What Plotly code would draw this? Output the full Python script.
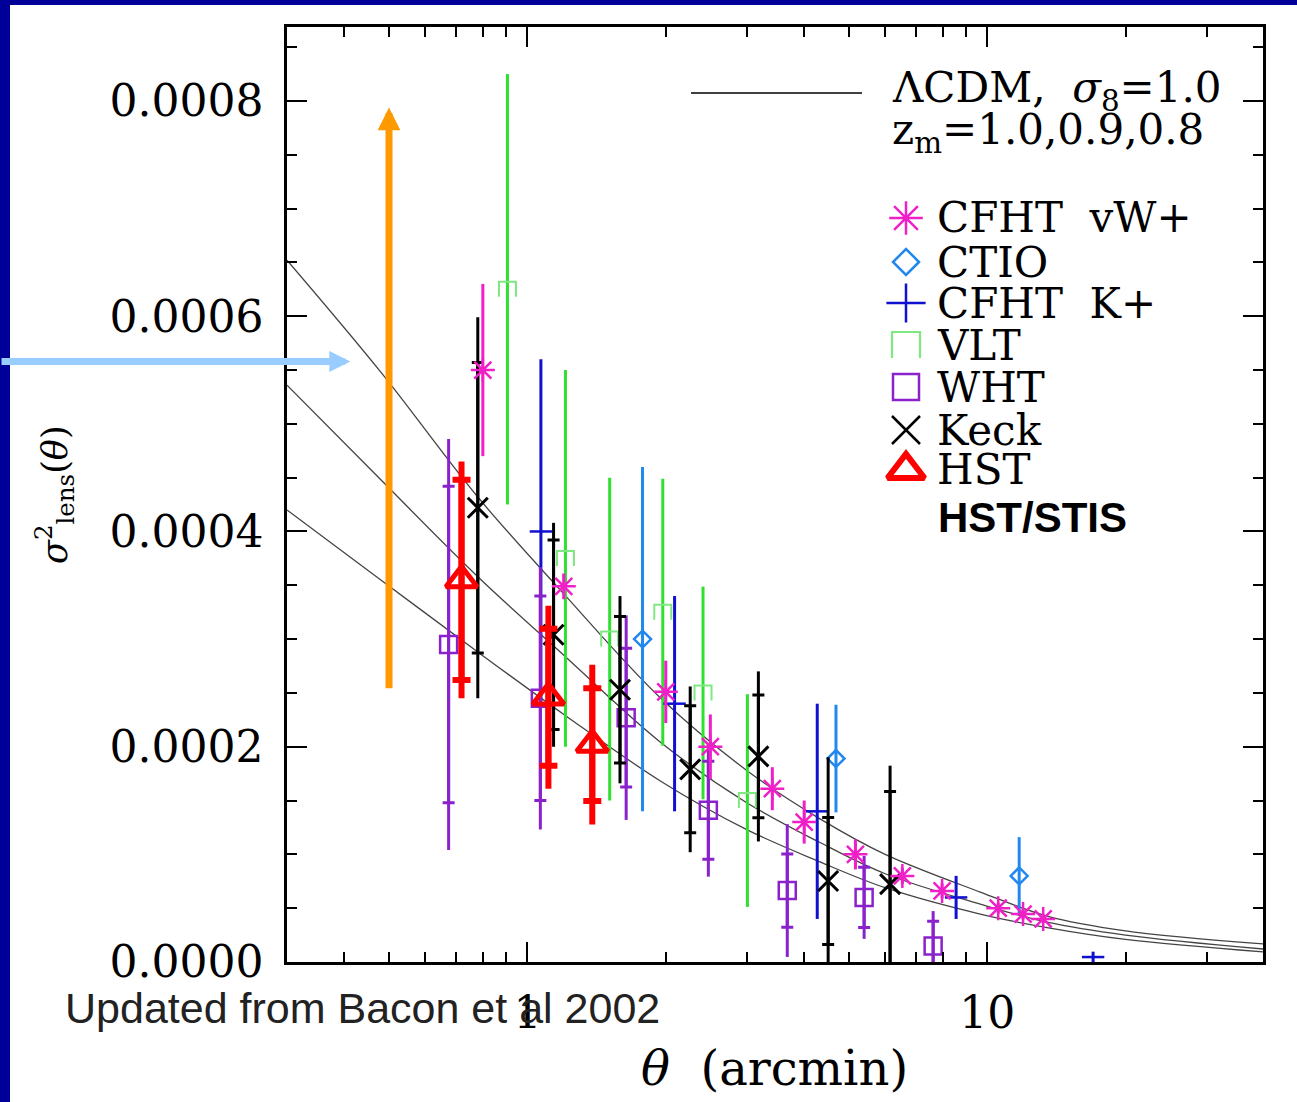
import numpy as np
import plotly.graph_objects as go

# ---------------- data ----------------
model_theta = [0.3, 0.48, 0.78, 1.2, 1.95, 3.0, 4.33, 6.0, 9.66, 13.5, 20, 40]
model_z10 = [0.000652, 0.000548, 0.000432, 0.000342, 0.000245, 0.000178, 0.000133, 0.0001,
             0.000065, 0.0000427, 0.000029, 0.0000167]
model_z09 = [0.000536, 0.000448, 0.000358, 0.000285, 0.000204, 0.000148, 0.000111, 0.000082,
             0.0000538, 0.000037, 0.000025, 0.000012]
model_z08 = [0.00042, 0.000355, 0.000288, 0.00023, 0.000168, 0.000123, 0.000093, 0.000069,
             0.0000445, 0.000032, 0.000021, 0.0000093]

keck_theta = [0.78, 1.14, 1.59, 2.26, 3.18, 4.51, 6.15]
keck_val = [0.000422, 0.000304, 0.000253, 0.000179, 0.000191, 0.0000752, 0.0000724]
keck_err_in = [0.000135, 0.000088, 0.000068, 0.000059, 0.000057, 0.000059, 0.000086]
keck_err_out = [0.000177, 0.000104, 0.000087, 0.000077, 0.000079, 0.000115, 0.00011]

vw_theta = [0.80, 1.20, 2.0, 2.5, 3.41, 4.0, 5.17, 6.54, 7.98, 10.57, 11.97, 13.24]
vw_val = [0.00055, 0.000349, 0.000251, 0.0002, 0.000161, 0.00013, 0.0001, 0.00008,
          0.000066, 0.00005, 0.0000445, 0.00004]
vw_err = [0.00008, 0.000012, 0.000029, 0.00003, 0.00002, 0.00002, 0.000014, 0.0000075,
          0.000007, 0.000005, 0.000005, 0.000004]

ctio_theta = [1.78, 4.69, 11.74]
ctio_val = [0.0003, 0.000189, 0.00008]
ctio_err = [0.00016, 0.00005, 0.000036]

kp_theta = [1.07, 2.09, 4.27, 8.56, 17.0]
kp_val = [0.0004, 0.00024, 0.00014, 0.00006, 0.0000046]
kp_err = [0.00016, 0.0001, 0.0001, 0.00002, 0.000005]

vlt_theta = [0.905, 1.21, 1.51, 1.97, 2.41, 3.01]
vlt_val = [0.000625, 0.000375, 0.0003, 0.000325, 0.00025, 0.00015]
vlt_err = [0.0002, 0.000175, 0.00015, 0.000124, 0.0000988, 0.0000988]

wht_theta = [0.674, 1.067, 1.64, 2.475, 3.675, 5.4, 7.63]
wht_val = [0.000295, 0.000245, 0.000227, 0.000141, 0.0000664, 0.00006, 0.0000148]
wht_err_in = [0.000147, 0.000095, 0.0000645, 0.0000455, 0.000034, 0.000028, 0.000023]
wht_err_out = [0.000191, 0.000122, 0.000095, 0.0000617, 0.0000617, 0.0000385, 0.0000325]

hst_theta = [0.719, 1.111, 1.384]
hst_val = [0.000355, 0.000246, 0.000202]
hst_err_in = [0.000093, 0.0000636, 0.0000524]
hst_err_out = [0.00011, 0.000085, 0.0000742]

stis_arrow_theta = 0.5
stis_arrow_from = 0.000253
stis_arrow_to = 0.000794
blue_arrow_theta = 0.412
blue_arrow_val = 0.000558

y_tickvals = [0, 0.0002, 0.0004, 0.0006, 0.0008]
y_ticktext = ["0.0000", "0.0002", "0.0004", "0.0006", "0.0008"]
x_tickvals = [1, 10]
x_ticktext = ["1", "10"]
x_minor = [0.4, 0.5, 0.6, 0.7, 0.8, 0.9, 2, 3, 4, 5, 6, 7, 8, 9, 20, 30]

legend_labels = ["CFHT\u00a0\u00a0vW+", "CTIO", "CFHT\u00a0\u00a0K+", "VLT", "WHT", "Keck", "HST"]

# ---------------- colours ----------------
C_KECK = "#000000"
C_VW = "#F020C8"
C_CTIO = "#2088EE"
C_KP = "#1010D0"
C_VLT = "#30E030"
C_VLT_M = "#80E880"
C_WHT = "#8A22CC"
C_HST = "#FF0000"
C_MODEL = "#444444"

W, H = 1297, 1102
ML, MR, MT, MB = 287, 34, 27, 140
PW, PH = W - ML - MR, H - MT - MB
X_LOG_MIN, X_LOG_MAX = np.log10(0.3), 1.6
Y_MAX = 0.0008687
PX_PER_DEC = PW / (X_LOG_MAX - X_LOG_MIN)
PX_PER_Y = PH / Y_MAX


def pxx(px):
    return (px - ML) / PW


def pxy(py):
    return (H - MB - py) / PH


SERIF = "DejaVu Serif"
SANS = "Liberation Sans"

fig = go.Figure()

# model curves
for arr in (model_z10, model_z09, model_z08):
    fig.add_trace(go.Scatter(x=model_theta, y=arr, mode="lines",
                             line=dict(color=C_MODEL, width=1.3, shape="spline", smoothing=1.0),
                             hoverinfo="skip", showlegend=False))


def pi_glyph(xs, ys, half_w_px, half_h_px, logx):
    """Build the open-bottom box glyph of the VLT points around each (x, y)."""
    gx, gy = [], []
    for x, y in zip(xs, ys):
        if logx:
            fl = 10 ** (-half_w_px / PX_PER_DEC)
            fr = 10 ** (half_w_px / PX_PER_DEC)
            xl, xr = x * fl, x * fr
            dy = half_h_px / PX_PER_Y
            yb, yt = y - dy, y + dy
        else:
            xl, xr = x - half_w_px, x + half_w_px
            yb, yt = y + half_h_px, y - half_h_px
        gx += [xl, xl, xr, xr, None]
        gy += [yb, yt, yt, yb, None]
    return gx, gy


def add_series(theta, val, err_out, err_in, color, thick, cap, marker, vlt=False):
    if err_out is not None:
        fig.add_trace(go.Scatter(
            x=theta, y=val, mode="markers",
            marker=dict(size=1, color="rgba(0,0,0,0)"),
            error_y=dict(type="data", array=err_out, symmetric=True, color=color,
                         thickness=thick, width=0),
            hoverinfo="skip", showlegend=False))
    ey = None
    if err_in is not None:
        ey = dict(type="data", array=err_in, symmetric=True, color=color,
                  thickness=thick, width=cap)
    if vlt:
        fig.add_trace(go.Scatter(
            x=theta, y=val, mode="markers",
            marker=dict(size=1, color="rgba(0,0,0,0)"),
            error_y=ey, hoverinfo="skip", showlegend=False))
        gx, gy = pi_glyph(theta, val, 8.5, 7.5, True)
        fig.add_trace(go.Scatter(x=gx, y=gy, mode="lines",
                                 line=dict(color=C_VLT_M, width=2),
                                 hoverinfo="skip", showlegend=False))
    else:
        fig.add_trace(go.Scatter(
            x=theta, y=val, mode="markers", marker=marker,
            error_y=ey, hoverinfo="skip", showlegend=False))


add_series(vlt_theta, vlt_val, None, vlt_err, C_VLT, 3, 0, None, vlt=True)
add_series(ctio_theta, ctio_val, None, ctio_err, C_CTIO, 3, 0,
           dict(symbol="diamond-open", size=13, color=C_CTIO, line=dict(color=C_CTIO, width=2.5)))
add_series(kp_theta, kp_val, None, kp_err, C_KP, 3, 0,
           dict(symbol="line-ew-open", size=16, color=C_KP, line=dict(color=C_KP, width=2.5)))
add_series(wht_theta, wht_val, wht_err_out, wht_err_in, C_WHT, 3, 6,
           dict(symbol="square-open", size=17, color=C_WHT, line=dict(color=C_WHT, width=2.5)))
add_series(keck_theta, keck_val, keck_err_out, keck_err_in, C_KECK, 3, 6,
           dict(symbol="x-thin-open", size=20, color=C_KECK, line=dict(color=C_KECK, width=3)))
add_series(vw_theta, vw_val, None, vw_err, C_VW, 3, 0,
           dict(symbol="asterisk-open", size=20, color=C_VW, line=dict(color=C_VW, width=2.5)))
add_series(hst_theta, hst_val, hst_err_out, hst_err_in, C_HST, 6, 9,
           dict(symbol="triangle-up-open", size=27, color=C_HST, line=dict(color=C_HST, width=5)))

# ---------------- legend glyphs on a pixel-space overlay axis ----------------
leg_x = 906
leg_y = [218, 262, 303, 345, 387, 430, 470]
leg_sym = [("asterisk-open", 28, C_VW, 2.5), ("diamond-open", 20, C_CTIO, 2.5),
           ("cross-thin-open", 28, C_KP, 2.5), None, ("square-open", 26, C_WHT, 2.5),
           ("x-thin-open", 28, C_KECK, 2.5), ("triangle-up-open", 32, C_HST, 6)]
for yy, s in zip(leg_y, leg_sym):
    if s is None:
        gx, gy = pi_glyph([leg_x], [yy], 14, 13, False)
        fig.add_trace(go.Scatter(x=gx, y=gy, mode="lines", line=dict(color=C_VLT_M, width=2.2),
                                 xaxis="x2", yaxis="y2", hoverinfo="skip", showlegend=False))
    else:
        sym, sz, col, lw = s
        fig.add_trace(go.Scatter(x=[leg_x], y=[yy], mode="markers",
                                 marker=dict(symbol=sym, size=sz, color=col, line=dict(color=col, width=lw)),
                                 xaxis="x2", yaxis="y2", hoverinfo="skip", showlegend=False))

annotations = []
for yy, lab in zip(leg_y, legend_labels):
    annotations.append(dict(x=pxx(935), y=pxy(yy), xref="paper", yref="paper", text=lab,
                            showarrow=False, xanchor="left", yanchor="middle",
                            font=dict(family=SERIF, size=42, color="black")))
annotations.append(dict(x=pxx(936), y=pxy(517), xref="paper", yref="paper", text="<b>HST/STIS</b>",
                        showarrow=False, xanchor="left", yanchor="middle",
                        font=dict(family=SANS, size=42, color="black")))
annotations.append(dict(x=pxx(890), y=pxy(90), xref="paper", yref="paper",
                        text="\u039bCDM,\u00a0\u00a0<i>\u03c3</i><sub>8</sub>=1.0",
                        showarrow=False, xanchor="left", yanchor="middle",
                        font=dict(family=SERIF, size=42, color="black")))
annotations.append(dict(x=pxx(890), y=pxy(132), xref="paper", yref="paper",
                        text="z<sub>m</sub>=1.0,0.9,0.8",
                        showarrow=False, xanchor="left", yanchor="middle",
                        font=dict(family=SERIF, size=42, color="black")))
annotations.append(dict(x=pxx(774), y=pxy(1068), xref="paper", yref="paper",
                        text="<i>\u03b8</i>\u00a0\u00a0(arcmin)",
                        showarrow=False, xanchor="center", yanchor="middle",
                        font=dict(family=SERIF, size=48, color="black")))
annotations.append(dict(x=pxx(55), y=pxy(495), xref="paper", yref="paper",
                        text="<i>\u03c3</i><sup>2</sup><sub>lens</sub>(<i>\u03b8</i>)",
                        showarrow=False, xanchor="center", yanchor="middle", textangle=-90,
                        font=dict(family=SERIF, size=35, color="black")))
annotations.append(dict(x=pxx(63), y=pxy(1008), xref="paper", yref="paper",
                        text="Updated from Bacon et al 2002",
                        showarrow=False, xanchor="left", yanchor="middle",
                        font=dict(family=SANS, size=43, color="#222222")))
# orange arrow (data coordinates)
annotations.append(dict(x=np.log10(stis_arrow_theta), y=stis_arrow_to, xref="x", yref="y",
                        ax=np.log10(stis_arrow_theta), ay=stis_arrow_from, axref="x", ayref="y",
                        text="", showarrow=True, arrowhead=2, arrowsize=0.65, arrowwidth=7,
                        arrowcolor="#FF9900", standoff=0))
# light blue arrow
annotations.append(dict(x=np.log10(blue_arrow_theta), y=blue_arrow_val, xref="x", yref="y",
                        ax=-352, ay=0, text="", showarrow=True, arrowhead=2, arrowsize=0.6,
                        arrowwidth=7, arrowcolor="#99CCFF", standoff=0))

shapes = [
    dict(type="rect", xref="paper", yref="paper", x0=pxx(0), x1=pxx(10), y0=pxy(H), y1=pxy(0),
         fillcolor="#000099", line=dict(width=0), layer="below"),
    dict(type="rect", xref="paper", yref="paper", x0=pxx(0), x1=pxx(W), y0=pxy(5), y1=pxy(0),
         fillcolor="#000099", line=dict(width=0), layer="below"),
    dict(type="line", xref="paper", yref="paper", x0=pxx(691), x1=pxx(862), y0=pxy(93), y1=pxy(93),
         line=dict(color="black", width=1.5)),
]

fig.update_layout(
    width=W, height=H,
    margin=dict(l=ML, r=MR, t=MT, b=MB, pad=0),
    paper_bgcolor="white", plot_bgcolor="white",
    showlegend=False,
    annotations=annotations,
    shapes=shapes,
    xaxis=dict(type="log", range=[X_LOG_MIN, X_LOG_MAX],
               tickmode="array", tickvals=x_tickvals, ticktext=x_ticktext,
               ticks="inside", ticklen=20, tickwidth=2, tickcolor="black",
               showline=True, linecolor="black", linewidth=2.5, mirror="allticks",
               showgrid=False, zeroline=False, ticklabelstandoff=10,
               tickfont=dict(family=SERIF, size=44, color="black"),
               minor=dict(tickmode="array", tickvals=x_minor, ticks="inside", ticklen=10,
                          tickwidth=2, tickcolor="black", showgrid=False)),
    yaxis=dict(range=[0, Y_MAX],
               tickmode="array", tickvals=y_tickvals, ticktext=y_ticktext,
               ticks="inside", ticklen=20, tickwidth=2, tickcolor="black",
               showline=True, linecolor="black", linewidth=2.5, mirror="allticks",
               showgrid=False, zeroline=False, ticklabelstandoff=12,
               tickfont=dict(family=SERIF, size=44, color="black"),
               minor=dict(dtick=0.00005, tick0=0, ticks="inside", ticklen=10,
                          tickwidth=2, tickcolor="black", showgrid=False)),
    xaxis2=dict(overlaying="x", range=[ML, W - MR], visible=False, fixedrange=True),
    yaxis2=dict(overlaying="y", range=[H - MB, MT], visible=False, fixedrange=True),
)

fig.write_html("out.html")
